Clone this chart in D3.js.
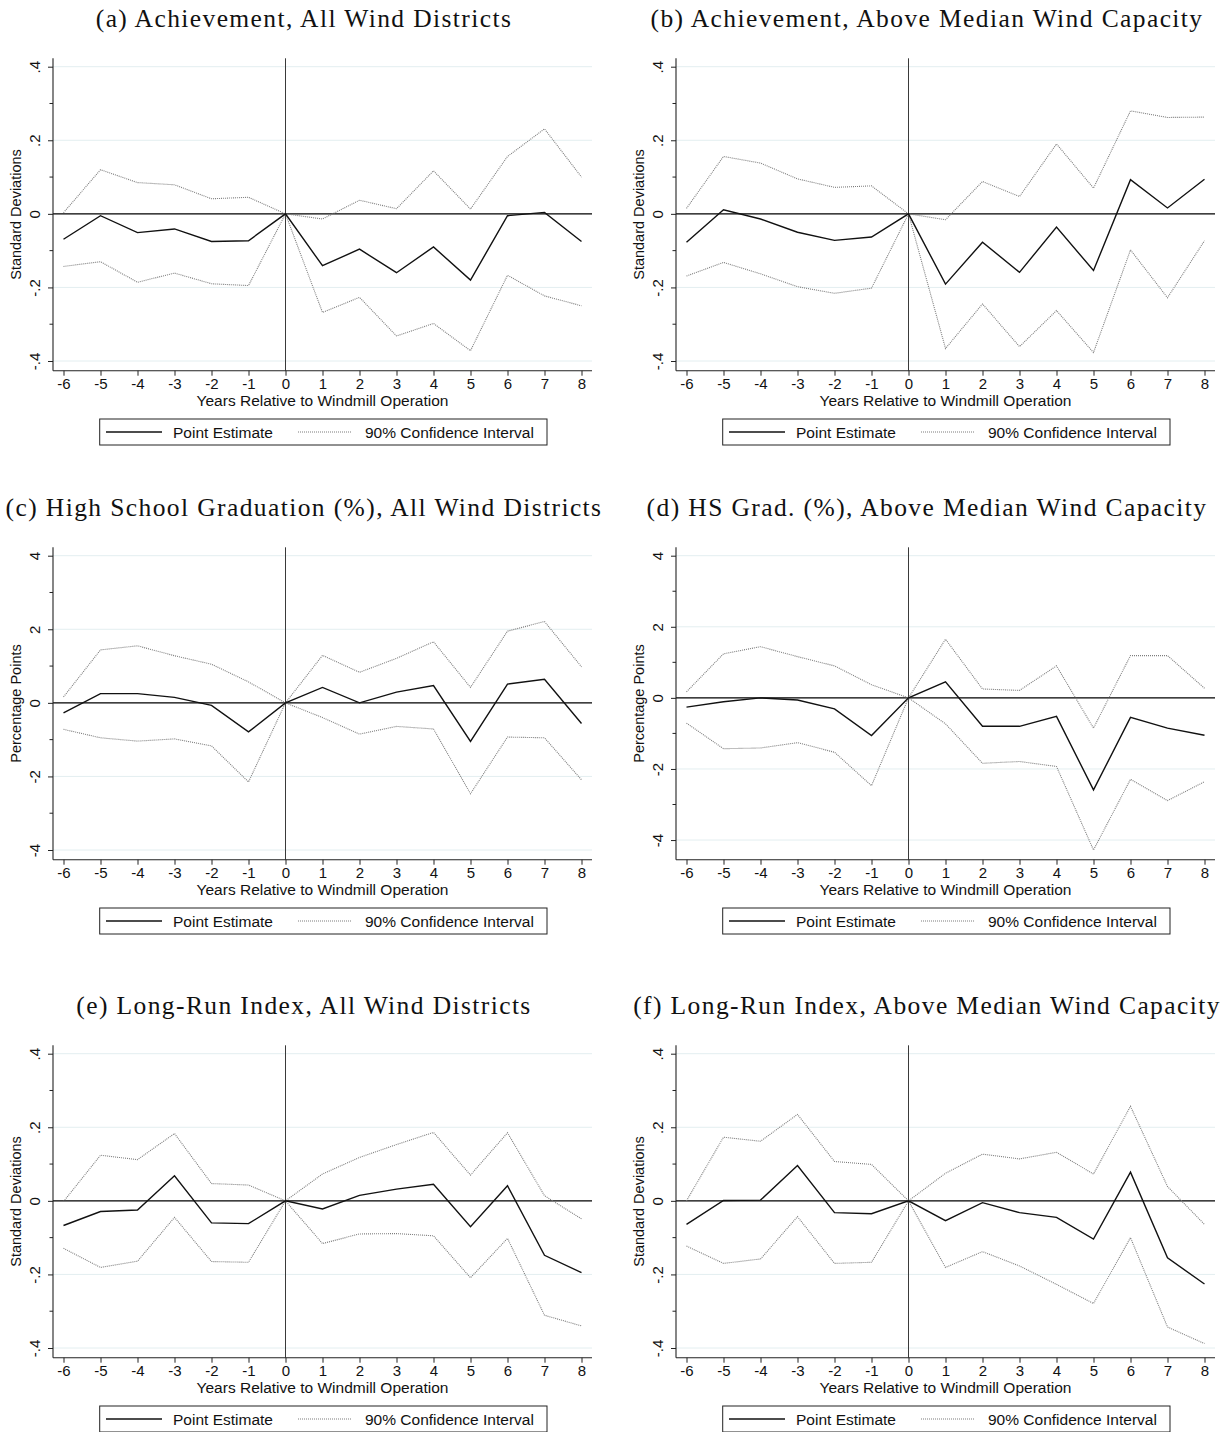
<!DOCTYPE html>
<html>
<head>
<meta charset="utf-8">
<script src="https://cdn.jsdelivr.net/npm/d3@7"></script>
<style>
  html, body { margin: 0; padding: 0; background: #fff; }
  svg { display: block; }
</style>
</head>
<body>
<script>
// ---------------- DATA ----------------
const years = [-6, -5, -4, -3, -2, -1, 0, 1, 2, 3, 4, 5, 6, 7, 8];

const titles = [
  "(a) Achievement, All Wind Districts",
  "(b) Achievement, Above Median Wind Capacity",
  "(c) High School Graduation (%), All Wind Districts",
  "(d) HS Grad. (%), Above Median Wind Capacity",
  "(e) Long-Run Index, All Wind Districts",
  "(f) Long-Run Index, Above Median Wind Capacity"
];
const yTitles = ["Standard Deviations", "Standard Deviations", "Percentage Points",
                 "Percentage Points", "Standard Deviations", "Standard Deviations"];

const sdTicks = [-0.4, -0.2, 0, 0.2, 0.4];
const sdTickLabels = ["-.4", "-.2", "0", ".2", ".4"];
const sdMinor = [-0.3, -0.1, 0.1, 0.3];
const ppTicks = [-4, -2, 0, 2, 4];
const ppTickLabels = ["-4", "-2", "0", "2", "4"];
const ppMinor = [-3, -1, 1, 3];

const xTickLabels = ["-6", "-5", "-4", "-3", "-2", "-1", "0", "1", "2", "3", "4", "5", "6", "7", "8"];
const xTitle = "Years Relative to Windmill Operation";
const legendLabels = ["Point Estimate", "90% Confidence Interval"];

// (a)
const aPoint = [-0.069, -0.005, -0.051, -0.041, -0.075, -0.073, 0, -0.141, -0.096, -0.160, -0.090, -0.180, -0.005, 0.004, -0.075];
const aUpper = [0.003, 0.120, 0.085, 0.079, 0.041, 0.045, 0, -0.014, 0.037, 0.014, 0.117, 0.013, 0.156, 0.231, 0.100];
const aLower = [-0.143, -0.130, -0.186, -0.161, -0.190, -0.195, 0, -0.268, -0.227, -0.332, -0.298, -0.372, -0.167, -0.223, -0.250];
// (b)
const bPoint = [-0.077, 0.011, -0.014, -0.050, -0.072, -0.063, 0, -0.191, -0.077, -0.159, -0.036, -0.154, 0.093, 0.016, 0.094];
const bUpper = [0.015, 0.156, 0.138, 0.095, 0.072, 0.076, 0, -0.016, 0.088, 0.047, 0.190, 0.070, 0.280, 0.262, 0.263];
const bLower = [-0.169, -0.132, -0.163, -0.198, -0.216, -0.202, 0, -0.366, -0.245, -0.361, -0.263, -0.377, -0.098, -0.228, -0.073];
// (c)
const cPoint = [-0.27, 0.25, 0.25, 0.15, -0.07, -0.79, 0, 0.42, 0.00, 0.29, 0.47, -1.05, 0.51, 0.64, -0.56];
const cUpper = [0.16, 1.44, 1.55, 1.28, 1.05, 0.57, 0, 1.29, 0.83, 1.21, 1.66, 0.42, 1.95, 2.21, 0.98];
const cLower = [-0.72, -0.95, -1.04, -0.98, -1.17, -2.15, 0, -0.40, -0.85, -0.64, -0.71, -2.47, -0.93, -0.95, -2.09];
// (d)
const dPoint = [-0.26, -0.11, 0.00, -0.06, -0.31, -1.06, 0, 0.45, -0.80, -0.80, -0.52, -2.59, -0.55, -0.85, -1.05];
const dUpper = [0.17, 1.24, 1.44, 1.16, 0.90, 0.37, 0, 1.65, 0.25, 0.21, 0.90, -0.85, 1.19, 1.19, 0.27];
const dLower = [-0.71, -1.43, -1.41, -1.26, -1.53, -2.47, 0, -0.73, -1.84, -1.79, -1.93, -4.28, -2.29, -2.89, -2.36];
// (e)
const ePoint = [-0.067, -0.029, -0.025, 0.068, -0.060, -0.062, 0, -0.022, 0.015, 0.032, 0.045, -0.070, 0.041, -0.148, -0.195];
const eUpper = [-0.002, 0.124, 0.112, 0.183, 0.047, 0.043, 0, 0.073, 0.118, 0.153, 0.186, 0.070, 0.185, 0.014, -0.049];
const eLower = [-0.129, -0.181, -0.164, -0.045, -0.165, -0.167, 0, -0.116, -0.090, -0.089, -0.095, -0.209, -0.102, -0.311, -0.340];
// (f)
const fPoint = [-0.064, 0.001, 0.002, 0.096, -0.032, -0.035, 0, -0.054, -0.005, -0.032, -0.045, -0.104, 0.078, -0.155, -0.226];
const fUpper = [0.000, 0.173, 0.162, 0.235, 0.107, 0.099, 0, 0.075, 0.127, 0.114, 0.132, 0.073, 0.257, 0.039, -0.064];
const fLower = [-0.123, -0.170, -0.158, -0.043, -0.170, -0.167, 0, -0.181, -0.138, -0.177, -0.227, -0.279, -0.100, -0.343, -0.388];

// ---------------- BUILD ----------------
const panels = [
  { title: titles[0], yTitle: yTitles[0], ticks: sdTicks, tickLabels: sdTickLabels, minor: sdMinor, point: aPoint, upper: aUpper, lower: aLower },
  { title: titles[1], yTitle: yTitles[1], ticks: sdTicks, tickLabels: sdTickLabels, minor: sdMinor, point: bPoint, upper: bUpper, lower: bLower },
  { title: titles[2], yTitle: yTitles[2], ticks: ppTicks, tickLabels: ppTickLabels, minor: ppMinor, point: cPoint, upper: cUpper, lower: cLower },
  { title: titles[3], yTitle: yTitles[3], ticks: ppTicks, tickLabels: ppTickLabels, minor: ppMinor, point: dPoint, upper: dUpper, lower: dLower },
  { title: titles[4], yTitle: yTitles[4], ticks: sdTicks, tickLabels: sdTickLabels, minor: sdMinor, point: ePoint, upper: eUpper, lower: eLower },
  { title: titles[5], yTitle: yTitles[5], ticks: sdTicks, tickLabels: sdTickLabels, minor: sdMinor, point: fPoint, upper: fUpper, lower: fLower }
];

const W = 1225, H = 1432;
const colX = [0, 623];
const rowY = [0, 489, 987];

// layout (local to each panel)
const axL = 53, axR = 592, axT = 58.3, axB = 370.7;
const inL = 63.5, inR = 581.5, inT = 66.7, inB = 361;
const sans = "'Liberation Sans', Arial, Helvetica, sans-serif";
const serif = "'Liberation Serif', 'Times New Roman', serif";
const ciColor = "#7d7d7d";

const svg = d3.select("body").append("svg")
  .attr("width", W).attr("height", H)
  .attr("viewBox", `0 0 ${W} ${H}`);
svg.append("rect").attr("width", W).attr("height", H).attr("fill", "#fff");

panels.forEach((p, i) => {
  const g = svg.append("g")
    .attr("transform", `translate(${colX[i % 2]},${rowY[Math.floor(i / 2)]})`);

  const x = d3.scaleLinear().domain([d3.min(years), d3.max(years)]).range([inL, inR]);
  const lo = Math.min(d3.min(p.ticks), d3.min(p.lower), d3.min(p.point));
  const hi = Math.max(d3.max(p.ticks), d3.max(p.upper), d3.max(p.point));
  const y = d3.scaleLinear().domain([lo, hi]).range([inB, inT]);

  // title
  g.append("text")
    .attr("x", 304).attr("y", 27)
    .attr("text-anchor", "middle")
    .attr("font-family", serif)
    .attr("font-size", 25.5)
    .attr("letter-spacing", 1.4)
    .attr("fill", "#111")
    .text(p.title);

  // grid lines (major ticks except 0)
  g.selectAll(".grid").data(p.ticks.filter(t => t !== 0)).enter()
    .append("line")
    .attr("x1", axL).attr("x2", axR)
    .attr("y1", d => y(d)).attr("y2", d => y(d))
    .attr("stroke", "#e3eef0").attr("stroke-width", 1);

  // zero horizontal line
  g.append("line")
    .attr("x1", axL).attr("x2", axR)
    .attr("y1", y(0)).attr("y2", y(0))
    .attr("stroke", "#000").attr("stroke-width", 1.2);

  // vertical line at year 0
  g.append("line")
    .attr("x1", x(0)).attr("x2", x(0))
    .attr("y1", axT).attr("y2", axB)
    .attr("stroke", "#3a3a3a").attr("stroke-width", 1);

  const line = d3.line().x((d, k) => x(years[k])).y(d => y(d));

  // CI lines (dotted)
  [p.upper, p.lower].forEach(arr => {
    g.append("path")
      .attr("d", line(arr))
      .attr("fill", "none")
      .attr("stroke", ciColor)
      .attr("stroke-width", 1.1)
      .attr("stroke-dasharray", "1,1");
  });

  // point estimate
  g.append("path")
    .attr("d", line(p.point))
    .attr("fill", "none")
    .attr("stroke", "#111")
    .attr("stroke-width", 1.4)
    .attr("stroke-linejoin", "miter");

  // y axis
  const yAxis = d3.axisLeft(y)
    .tickValues(p.ticks)
    .tickFormat((d, k) => p.tickLabels[k])
    .tickSize(5).tickSizeOuter(0);
  const ya = g.append("g").attr("transform", `translate(${axL},0)`).call(yAxis);
  ya.select(".domain").remove();
  ya.selectAll(".tick line").attr("stroke", "#222");
  ya.selectAll(".tick text")
    .attr("x", null).attr("dy", null)
    .attr("transform", "translate(-18,0) rotate(-90)")
    .attr("text-anchor", "middle")
    .attr("dy", "0.36em")
    .attr("font-family", sans)
    .attr("font-size", 15)
    .attr("fill", "#111");
  // minor ticks
  g.selectAll(".minor").data(p.minor).enter()
    .append("line")
    .attr("x1", axL - 3.5).attr("x2", axL)
    .attr("y1", d => y(d)).attr("y2", d => y(d))
    .attr("stroke", "#222").attr("stroke-width", 1);

  // x axis
  const xAxis = d3.axisBottom(x)
    .tickValues(years)
    .tickFormat((d, k) => xTickLabels[k])
    .tickSize(5).tickPadding(3).tickSizeOuter(0);
  const xa = g.append("g").attr("transform", `translate(0,${axB})`).call(xAxis);
  xa.select(".domain").remove();
  xa.selectAll(".tick line").attr("stroke", "#222");
  xa.selectAll(".tick text")
    .attr("font-family", sans)
    .attr("font-size", 15)
    .attr("fill", "#111");

  // axis lines
  g.append("line").attr("x1", axL).attr("x2", axL).attr("y1", axT).attr("y2", axB)
    .attr("stroke", "#222").attr("stroke-width", 1.1);
  g.append("line").attr("x1", axL).attr("x2", axR).attr("y1", axB).attr("y2", axB)
    .attr("stroke", "#222").attr("stroke-width", 1.1);

  // axis titles
  g.append("text")
    .attr("x", (axL + axR) / 2).attr("y", 406)
    .attr("text-anchor", "middle")
    .attr("font-family", sans).attr("font-size", 15.5)
    .attr("fill", "#111")
    .text(xTitle);
  g.append("text")
    .attr("transform", `translate(16,${(axT + axB) / 2}) rotate(-90)`)
    .attr("text-anchor", "middle")
    .attr("dy", "0.36em")
    .attr("font-family", sans).attr("font-size", 14.5)
    .attr("fill", "#111")
    .text(p.yTitle);

  // legend
  const lg = g.append("g");
  lg.append("rect")
    .attr("x", 99.7).attr("y", 419).attr("width", 447.3).attr("height", 26)
    .attr("fill", "#fff").attr("stroke", "#222").attr("stroke-width", 1);
  lg.append("line").attr("x1", 106).attr("x2", 162).attr("y1", 432).attr("y2", 432)
    .attr("stroke", "#111").attr("stroke-width", 1.4);
  lg.append("text").attr("x", 173).attr("y", 437.5)
    .attr("font-family", sans).attr("font-size", 15.5).attr("fill", "#111")
    .text(legendLabels[0]);
  lg.append("line").attr("x1", 298).attr("x2", 352).attr("y1", 432).attr("y2", 432)
    .attr("stroke", ciColor).attr("stroke-width", 1.1).attr("stroke-dasharray", "1,1");
  lg.append("text").attr("x", 365).attr("y", 437.5)
    .attr("font-family", sans).attr("font-size", 15.5).attr("fill", "#111")
    .text(legendLabels[1]);
});
</script>
</body>
</html>
